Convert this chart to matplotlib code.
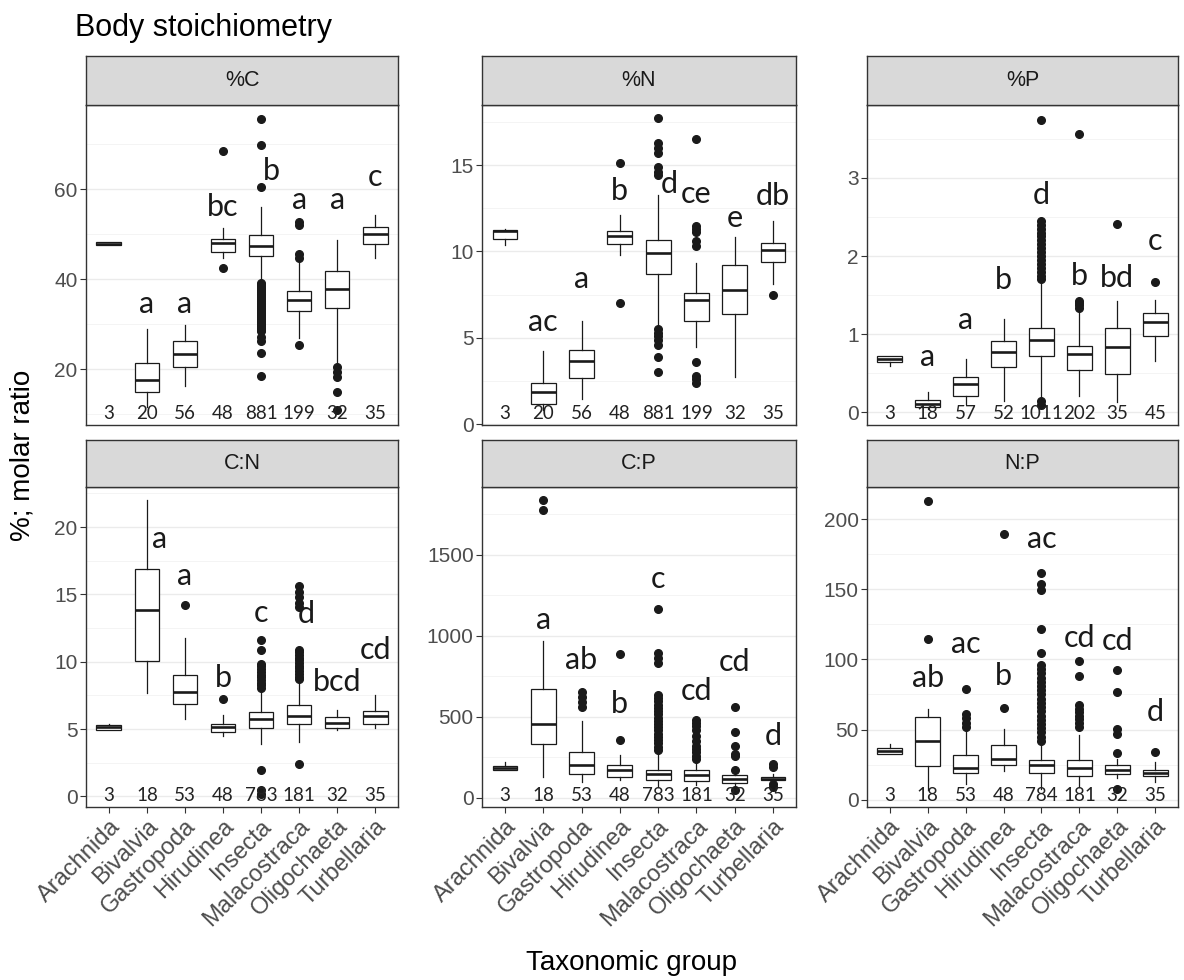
import numpy as np
import matplotlib
matplotlib.use('Agg')
import matplotlib.pyplot as plt
from matplotlib.transforms import blended_transform_factory

groups = ['Arachnida', 'Bivalvia', 'Gastropoda', 'Hirudinea', 'Insecta',
          'Malacostraca', 'Oligochaeta', 'Turbellaria']

# box stats per group: (whisker low, q1, median, q3, whisker high)
pC_box = [(47.5, 47.6, 47.9, 48.2, 48.3), (11.5, 15.0, 17.6, 21.3, 29.0),
          (16.2, 20.4, 23.3, 26.3, 29.8), (44.8, 46.1, 48.1, 49.0, 51.3),
          (40.0, 45.2, 47.4, 49.8, 56.1), (27.0, 33.0, 35.3, 37.3, 43.5),
          (21.3, 33.7, 37.9, 41.8, 48.7), (44.6, 47.9, 50.0, 51.6, 54.2)]
pC_out = [[], [], [], [68.4, 42.5],
          [75.5, 69.8, 60.4, 39.2, 38.8, 38.4, 38.0, 37.6, 37.2, 36.8, 36.4, 36.0, 35.6,
           35.2, 34.8, 34.4, 34.0, 33.6, 33.2, 32.8, 32.4, 32.0, 31.6, 31.2, 30.8, 30.4,
           30.0, 29.6, 29.2, 28.8, 28.4, 27.2, 26.3, 23.5, 18.5],
          [52.8, 52.0, 45.5, 44.8, 25.3], [20.5, 19.4, 18.3, 15.0, 10.9], []]
pC_n = [3, 20, 56, 48, 881, 199, 32, 35]
pC_let = ['', 'a', 'a', 'bc', 'b', 'a', 'a', 'c']
pC_lety = [0, 32.5, 32.5, 54.0, 62.1, 55.5, 55.5, 60.7]

pN_box = [(10.4, 10.7, 11.2, 11.25, 11.3), (0.8, 1.16, 1.84, 2.36, 4.26),
          (1.45, 2.67, 3.68, 4.32, 6.0), (9.77, 10.45, 10.9, 11.19, 12.1),
          (5.8, 8.71, 9.93, 10.68, 13.26), (4.45, 6.0, 7.2, 7.59, 9.33),
          (2.75, 6.39, 7.74, 9.21, 10.84), (8.13, 9.39, 10.1, 10.49, 11.75)]
pN_out = [[], [], [], [15.1, 7.0],
          [17.7, 16.3, 16.0, 15.7, 14.9, 14.6, 14.4, 5.5, 5.3, 5.1, 4.9, 4.6, 3.9, 3.0],
          [16.5, 11.5, 11.3, 11.1, 10.6, 10.3, 3.6, 2.8, 2.6, 2.4], [], [7.45]]
pN_n = [3, 20, 56, 48, 881, 199, 32, 35]
pN_let = ['', 'ac', 'a', 'b', 'd', 'ce', 'e', 'db']
pN_lety = [0, 5.38, 7.9, 12.97, 13.39, 12.81, 11.42, 12.68]

pP_box = [(0.6, 0.64, 0.68, 0.717, 0.72), (0.04, 0.064, 0.107, 0.158, 0.256),
          (0.107, 0.213, 0.363, 0.448, 0.683), (0.15, 0.585, 0.768, 0.909, 1.195),
          (0.2, 0.717, 0.926, 1.08, 1.643), (0.213, 0.542, 0.747, 0.854, 1.30),
          (0.13, 0.49, 0.84, 1.08, 1.43), (0.66, 0.982, 1.152, 1.268, 1.438)]
pP_out = [[], [], [], [],
          [3.74, 2.45, 2.4, 2.35, 2.3, 2.25, 2.2, 2.15, 2.1, 2.05, 2.0, 1.95, 1.9, 1.85,
           1.8, 1.75, 1.71, 0.15, 0.1],
          [3.56, 1.43, 1.40, 1.37, 1.34], [2.41], [1.673]]
pP_n = [3, 18, 57, 52, 1011, 202, 35, 45]
pP_let = ['', 'a', 'a', 'b', 'd', 'b', 'bd', 'c']
pP_lety = [0, 0.6, 1.07, 1.58, 2.66, 1.63, 1.6, 2.08]

pCN_box = [(4.96, 4.96, 5.16, 5.31, 5.35), (7.69, 10.07, 13.85, 16.87, 21.98),
           (5.78, 6.85, 7.72, 9.0, 11.74), (4.47, 4.79, 5.16, 5.41, 6.03),
           (3.87, 5.09, 5.78, 6.28, 7.94), (4.04, 5.36, 5.98, 6.75, 8.59),
           (4.91, 5.09, 5.46, 5.9, 6.45), (5.09, 5.36, 5.96, 6.33, 7.52)]
pCN_out = [[], [], [14.2], [7.2],
           [11.65, 10.85, 9.85, 9.65, 9.45, 9.25, 9.05, 8.85, 8.65, 8.45, 8.25, 8.05,
            1.99, 0.5, 0.2],
           [15.6, 15.2, 14.8, 14.4, 14.1, 10.9, 10.7, 10.5, 10.3, 10.1, 9.9, 9.7, 9.5,
            9.3, 9.1, 8.9, 8.7, 2.43], [], []]
pCN_n = [3, 18, 53, 48, 783, 181, 32, 35]
pCN_let = ['', 'a', 'a', 'b', 'c', 'd', 'bcd', 'cd']
pCN_lety = [0, 18.44, 15.7, 8.09, 12.98, 12.85, 7.82, 10.17]

pCP_box = [(169, 169, 186, 194, 221), (128, 334, 454, 669, 970),
           (97, 149, 204, 283, 473), (107, 128, 169, 200, 262),
           (66, 107, 149, 173, 283), (76, 103, 142, 173, 231),
           (76, 93, 118, 138, 169), (97, 107, 118, 128, 149)]
pCP_out = [[], [1841, 1779], [654, 623, 590, 561], [887, 355],
           [1164, 896, 860, 830, 634, 615, 595, 575, 555, 535, 515, 495, 475, 455, 435,
            415, 395, 375, 355, 335, 315, 293],
           [479, 460, 440, 420, 380, 350, 320, 300, 280, 260, 241],
           [557, 406, 318, 272, 256, 173, 50], [210, 190, 87, 66]]
pCP_n = [3, 18, 53, 48, 783, 181, 32, 35]
pCP_let = ['', 'a', 'ab', 'b', 'c', 'cd', 'cd', 'd']
pCP_lety = [0, 1040, 792, 520, 1294, 603, 784, 328]

pNP_box = [(32.4, 32.4, 34.8, 37.1, 40), (6.7, 23.8, 41.9, 59.0, 65),
           (11.4, 19.3, 22.9, 31.7, 53.8), (20.2, 25.0, 29.3, 38.8, 50.2),
           (7.9, 19.3, 24.5, 28.6, 41.2), (9.0, 16.9, 22.6, 28.6, 46.0),
           (15.7, 18.6, 21.0, 24.5, 29.3), (12.6, 16.7, 19.0, 21.4, 26.9)]
pNP_out = [[], [213.1, 114.5], [78.8, 61, 58, 55, 52], [189.5, 65.7],
           [161.4, 154, 149.5, 121.4, 104.8, 96, 93, 90, 87, 84, 81, 78, 75, 72, 69, 66,
            63, 60, 57, 54, 51, 48, 45, 42],
           [99, 88.3, 67.4, 65, 62.5, 60, 57.5, 55, 52],
           [92.4, 76.9, 50.7, 47.1, 33.3, 7.9], [34]]
pNP_n = [3, 18, 53, 48, 784, 181, 32, 35]
pNP_let = ['', 'ab', 'ac', 'b', 'ac', 'cd', 'cd', 'd']
pNP_lety = [0, 80.5, 104.8, 81.7, 179.3, 109, 106.7, 56.2]

# panel setup: title, data, ylim, major ticks, minor ticks, letter nudges
panels = [
    ('%C', pC_box, pC_out, pC_n, pC_let, pC_lety, (7.6, 78.7), [20, 40, 60], [10, 30, 50, 70], {4: 0.28}),
    ('%N', pN_box, pN_out, pN_n, pN_let, pN_lety, (-0.05, 18.48), [0, 5, 10, 15], [2.5, 7.5, 12.5, 17.5], {4: 0.3}),
    ('%P', pP_box, pP_out, pP_n, pP_let, pP_lety, (-0.16, 3.93), [0, 1, 2, 3], [0.5, 1.5, 2.5, 3.5], {}),
    ('C:N', pCN_box, pCN_out, pCN_n, pCN_let, pCN_lety, (-0.79, 22.98), [0, 5, 10, 15, 20], [2.5, 7.5, 12.5, 17.5, 22.5], {1: 0.34, 5: 0.2}),
    ('C:P', pCP_box, pCP_out, pCP_n, pCP_let, pCP_lety, (-57.8, 1919), [0, 500, 1000, 1500], [250, 750, 1250, 1750], {}),
    ('N:P', pNP_box, pNP_out, pNP_n, pNP_let, pNP_lety, (-5.2, 222.9), [0, 50, 100, 150, 200], [25, 75, 125, 175], {}),
]

W, H = 1184, 980
def rect(x0, y0, x1, y1):
    return [x0 / W, 1 - y1 / H, (x1 - x0) / W, (y1 - y0) / H]

cols = [(86, 398), (482, 796), (867, 1178)]
rows = [(56, 105, 425), (440, 487, 807)]
dark = '#333333'
lab = 'Lato'
arial = 'Liberation Sans'

fig = plt.figure(figsize=(W / 100, H / 100), dpi=100)
fig.patch.set_facecolor('white')

for i, (name, box, out, ns, lets, lety, ylim, maj, mnr, nudge) in enumerate(panels):
    r, c = divmod(i, 3)
    x0, x1 = cols[c]
    st, y0, y1 = rows[r]
    ax = fig.add_axes(rect(x0, y0, x1, y1))
    stats = [dict(whislo=b[0], q1=b[1], med=b[2], q3=b[3], whishi=b[4], fliers=o)
             for b, o in zip(box, out)]
    ax.bxp(stats, positions=range(1, 9), widths=0.65, showcaps=False, patch_artist=True,
           boxprops=dict(facecolor='white', edgecolor='#1a1a1a', linewidth=0.9),
           whiskerprops=dict(color='#1a1a1a', linewidth=0.9),
           medianprops=dict(color='#1a1a1a', linewidth=1.9),
           flierprops=dict(marker='o', markerfacecolor='#1a1a1a', markeredgecolor='#1a1a1a',
                           markersize=5.5))
    ax.set_xlim(0.4, 8.6)
    ax.set_ylim(*ylim)
    ax.set_yticks(maj)
    ax.set_yticks(mnr, minor=True)
    ax.grid(axis='y', which='major', color='#EBEBEB', linewidth=1.0)
    ax.grid(axis='y', which='minor', color='#F2F2F2', linewidth=0.6)
    ax.set_axisbelow(True)
    for s in ax.spines.values():
        s.set_color(dark)
        s.set_linewidth(1.0)
    ax.tick_params(axis='y', which='major', length=4, width=0.8, color=dark,
                   labelsize=15, labelcolor='#4D4D4D', pad=2)
    ax.tick_params(axis='y', which='minor', length=0)
    for t in ax.get_yticklabels():
        t.set_family(arial)
    if r == 0:
        ax.set_xticks([])
    else:
        ax.set_xticks(range(1, 9))
        ax.set_xticklabels(groups, rotation=45, ha='right', va='top', rotation_mode='anchor',
                           fontsize=17, color='#4D4D4D', family=arial)
        ax.tick_params(axis='x', length=4, width=0.8, color=dark, pad=2)
    tr = blended_transform_factory(ax.transData, ax.transAxes)
    for k in range(8):
        ax.text(k + 1, 0.018, str(ns[k]), transform=tr, ha='center', va='baseline',
                fontsize=13.5, family=lab, color='#222222')
        if lets[k]:
            ax.text(k + 1 + nudge.get(k, 0), lety[k], lets[k], ha='center', va='baseline',
                    fontsize=22, family=lab, color='#1a1a1a')
    sax = fig.add_axes(rect(x0, st, x1, y0))
    sax.set_facecolor('#D9D9D9')
    sax.set_xticks([])
    sax.set_yticks([])
    for s in sax.spines.values():
        s.set_color(dark)
        s.set_linewidth(1.0)
    sax.text(0.5, 0.5, name, ha='center', va='center', fontsize=15.5, color='#1A1A1A',
             family=arial, transform=sax.transAxes)

fig.text(75 / W, 1 - 36 / H, 'Body stoichiometry', fontsize=22, family=arial,
         va='baseline', ha='left')
fig.text(23 / W, 1 - 455 / H, '%; molar ratio', fontsize=20, family=arial,
         rotation=90, ha='center', va='center')
fig.text(632 / W, 1 - 970 / H, 'Taxonomic group', fontsize=20, family=arial,
         ha='center', va='baseline')

fig.savefig('out.png', dpi=100)
